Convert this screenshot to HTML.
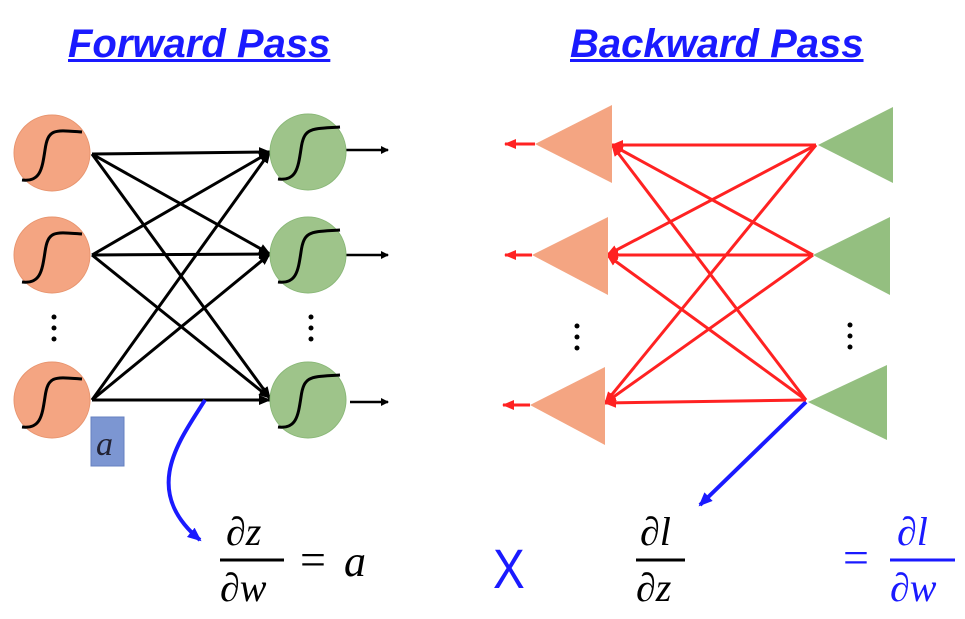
<!DOCTYPE html>
<html><head><style>
body{margin:0;width:965px;height:619px;background:#fff;overflow:hidden;position:relative;font-family:"Liberation Sans",sans-serif}
.t{position:absolute;font-weight:bold;font-style:italic;color:#1a1aff;text-decoration:underline;font-size:40px;text-decoration-thickness:3px;white-space:nowrap}
.m{position:absolute;font-family:"Liberation Serif",serif;font-style:italic;font-size:40px;line-height:40px}
</style></head><body>
<div class="t" style="left:68px;top:22px">Forward Pass</div>
<div class="t" style="left:570px;top:22px">Backward Pass</div>
<svg width="965" height="619" style="position:absolute;left:0;top:0">
<defs>
<marker id="ab" markerWidth="8" markerHeight="8" refX="7" refY="4" orient="auto" markerUnits="userSpaceOnUse"><path d="M0,0L8,4L0,8z" fill="#000"/></marker>
<marker id="ar" markerWidth="12" markerHeight="10" refX="11" refY="5" orient="auto" markerUnits="userSpaceOnUse"><path d="M0,0L12,5L0,10z" fill="#f22"/></marker>
<marker id="ak" markerWidth="12" markerHeight="10" refX="11" refY="5" orient="auto" markerUnits="userSpaceOnUse"><path d="M0,0L12,5L0,10z" fill="#000"/></marker>
<marker id="au" markerWidth="14" markerHeight="12" refX="12" refY="6" orient="auto" markerUnits="userSpaceOnUse"><path d="M0,0L14,6L0,12z" fill="#1a1aff"/></marker>
</defs>
<g stroke="#000" stroke-width="3" marker-end="url(#ak)">
<line x1="92" y1="154" x2="270" y2="152"/><line x1="92" y1="154" x2="270" y2="254"/><line x1="92" y1="154" x2="270" y2="398"/>
<line x1="92" y1="255" x2="270" y2="152"/><line x1="92" y1="255" x2="270" y2="254"/><line x1="92" y1="255" x2="270" y2="398"/>
<line x1="92" y1="400" x2="270" y2="152"/><line x1="92" y1="400" x2="270" y2="254"/><line x1="92" y1="400" x2="270" y2="400"/>
</g>
<g stroke="#000" stroke-width="2.5" marker-end="url(#ab)">
<line x1="346" y1="150" x2="388" y2="150"/><line x1="346" y1="255" x2="388" y2="255"/><line x1="350" y1="402" x2="388" y2="402"/>
</g>
<g fill="#f4a582" stroke="#e8956f" stroke-width="1">
<circle cx="52" cy="153" r="38"/><circle cx="52" cy="255" r="38"/><circle cx="52" cy="400" r="38"/>
</g>
<g fill="#9ec48a" stroke="#8ab878" stroke-width="1">
<circle cx="308" cy="152" r="38"/><circle cx="308" cy="255" r="38"/><circle cx="308" cy="400" r="38"/>
</g>
<g fill="none" stroke="#000" stroke-width="3">
<path d="M22,180 C40,182 42,170 45,150 C48,128 55,130 82,132"/>
<path d="M22,282 C40,284 42,272 45,252 C48,230 55,232 82,234"/>
<path d="M22,427 C40,429 42,417 45,397 C48,375 55,377 82,379"/>
<path d="M278,179 C296,181 298,169 301,149 C304,127 311,129 340,127"/>
<path d="M278,282 C296,284 298,272 301,252 C304,230 311,232 340,230"/>
<path d="M278,427 C296,429 298,417 301,397 C304,375 311,377 340,375"/>
</g>
<g fill="#000"><circle cx="54" cy="317" r="2.5"/><circle cx="54" cy="328" r="2.5"/><circle cx="54" cy="339" r="2.5"/>
<circle cx="311" cy="317" r="2.5"/><circle cx="311" cy="328" r="2.5"/><circle cx="311" cy="339" r="2.5"/>
<circle cx="577" cy="326" r="2.5"/><circle cx="577" cy="337" r="2.5"/><circle cx="577" cy="348" r="2.5"/>
<circle cx="850" cy="325" r="2.5"/><circle cx="850" cy="336" r="2.5"/><circle cx="850" cy="347" r="2.5"/></g>
<rect x="91" y="417" width="33" height="49" fill="#7c96d2" stroke="#6680c0"/>
<text x="96" y="455" font-family="Liberation Serif" font-style="italic" font-size="34" fill="#223">a</text>
<path d="M205,400 C180,440 140,490 200,540" fill="none" stroke="#1a1aff" stroke-width="4" marker-end="url(#au)"/>
<line x1="806" y1="402" x2="700" y2="505" stroke="#1a1aff" stroke-width="4" marker-end="url(#au)"/>
<g stroke="#f22" stroke-width="3" marker-end="url(#ar)">
<line x1="816" y1="145" x2="612" y2="145"/><line x1="816" y1="145" x2="607" y2="255"/><line x1="816" y1="145" x2="605" y2="403"/>
<line x1="813" y1="255" x2="612" y2="145"/><line x1="813" y1="255" x2="607" y2="255"/><line x1="813" y1="255" x2="605" y2="403"/>
<line x1="806" y1="400" x2="612" y2="145"/><line x1="806" y1="400" x2="607" y2="255"/><line x1="806" y1="400" x2="605" y2="403"/>
<line x1="535" y1="144" x2="505" y2="144"/><line x1="532" y1="255" x2="505" y2="255"/><line x1="530" y1="405" x2="503" y2="405"/>
</g>
<g fill="#f4a582"><polygon points="535,144 612,105 612,183"/><polygon points="532,255 608,217 608,295"/><polygon points="530,405 605,367 605,445"/></g>
<g fill="#94bf80"><polygon points="818,145 893,107 893,183"/><polygon points="813,255 890,217 890,295"/><polygon points="808,402 887,365 887,440"/></g>
<line x1="220" y1="560" x2="284" y2="560" stroke="#000" stroke-width="3"/>
<line x1="636" y1="560" x2="685" y2="560" stroke="#000" stroke-width="3"/>
<line x1="890" y1="560" x2="955" y2="560" stroke="#1a1aff" stroke-width="3"/>
<text x="493" y="588" font-family="Liberation Sans" font-size="56" fill="#1a1aff" transform="translate(493,0) scale(0.85,1) translate(-493,0)">X</text>
</svg>
<div class="m" style="left:226px;top:512px">∂z</div>
<div class="m" style="left:220px;top:568px">∂w</div>
<div class="m" style="left:300px;top:540px;font-style:normal;font-size:46px">=</div>
<div class="m" style="left:344px;top:542px;font-size:44px">a</div>
<div class="m" style="left:640px;top:512px">∂l</div>
<div class="m" style="left:636px;top:568px">∂z</div>
<div class="m" style="left:843px;top:538px;font-style:normal;color:#1a1aff;font-size:46px">=</div>
<div class="m" style="left:897px;top:512px;color:#1a1aff">∂l</div>
<div class="m" style="left:890px;top:568px;color:#1a1aff">∂w</div>
</body></html>
